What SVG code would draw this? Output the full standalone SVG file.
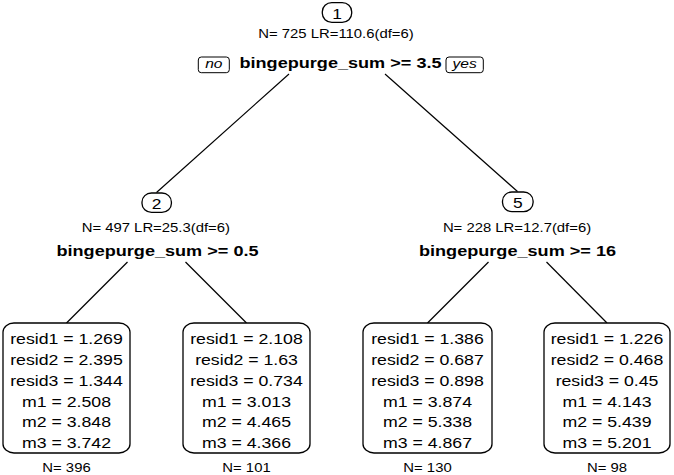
<svg xmlns="http://www.w3.org/2000/svg" width="674" height="475" viewBox="0 0 674 475">
<style>
text{font-family:"Liberation Sans",Arial,Helvetica,sans-serif;fill:#000;text-anchor:middle}
.id{font-size:14.5px}
.stat{font-size:12.5px}
.split{font-size:15.4px;font-weight:bold}
.lab{font-size:13px;font-style:italic}
.leaf{font-size:15px}
.box{fill:#fff;stroke:#000;stroke-width:1.3}
.edge{stroke:#000;stroke-width:1.2;fill:none}
</style>
<rect width="674" height="475" fill="#fff"/>
<g id="connectors">
<line class="edge" x1="289" y1="74" x2="156.5" y2="192.5"/>
<line class="edge" x1="385" y1="74" x2="517.5" y2="191.5"/>
<line class="edge" x1="127.5" y1="262" x2="66.5" y2="323"/>
<line class="edge" x1="185.5" y1="262" x2="246.5" y2="323"/>
<line class="edge" x1="488.5" y1="262" x2="427.5" y2="323"/>
<line class="edge" x1="546.5" y1="262" x2="607" y2="323"/>
</g>
<g id="node1">
<rect class="box" x="322.3" y="2.7" width="29.4" height="19.6" rx="9.5" ry="9"/>
<text class="id" transform="translate(337,18.6) scale(1.2,1)">1</text>
<text class="stat" transform="translate(336,37.5) scale(1.19,1)">N= 725 LR=110.6(df=6)</text>
<rect class="box" x="198.3" y="57" width="31" height="15.7" rx="3" ry="3" style="stroke-width:1"/>
<text class="lab" transform="translate(213.8,68.3) scale(1.2,1)">no</text>
<text class="split" transform="translate(340.5,68.3) scale(1.175,1)">bingepurge_sum &gt;= 3.5</text>
<rect class="box" x="446" y="57" width="37.3" height="15.7" rx="3" ry="3" style="stroke-width:1"/>
<text class="lab" transform="translate(464.6,68.3) scale(1.2,1)">yes</text>
</g>
<g id="node2">
<rect class="box" x="142" y="193" width="29.4" height="19.4" rx="9.5" ry="9"/>
<text class="id" transform="translate(156.7,208.8) scale(1.2,1)">2</text>
<text class="stat" transform="translate(155.8,231.5) scale(1.19,1)">N= 497 LR=25.3(df=6)</text>
<text class="split" transform="translate(157.5,255.5) scale(1.175,1)">bingepurge_sum &gt;= 0.5</text>
</g>
<g id="node5">
<rect class="box" x="502.5" y="192" width="30.6" height="19.6" rx="9.5" ry="9"/>
<text class="id" transform="translate(517.8,208.3) scale(1.2,1)">5</text>
<text class="stat" transform="translate(517,231.5) scale(1.19,1)">N= 228 LR=12.7(df=6)</text>
<text class="split" transform="translate(517.5,255.5) scale(1.175,1)">bingepurge_sum &gt;= 16</text>
</g>
<g id="node3">
<rect class="box" x="3" y="323" width="127" height="130" rx="11" ry="9"/>
<text class="leaf" transform="translate(66.5,344.3) scale(1.18,1)">resid1 = 1.269</text>
<text class="leaf" transform="translate(66.5,365) scale(1.18,1)">resid2 = 2.395</text>
<text class="leaf" transform="translate(66.5,385.8) scale(1.18,1)">resid3 = 1.344</text>
<text class="leaf" transform="translate(66.5,406.5) scale(1.18,1)">m1 = 2.508</text>
<text class="leaf" transform="translate(66.5,427.3) scale(1.18,1)">m2 = 3.848</text>
<text class="leaf" transform="translate(66.5,448) scale(1.18,1)">m3 = 3.742</text>
<text class="stat" transform="translate(66.5,471.7) scale(1.19,1)">N= 396</text>
</g>
<g id="node4">
<rect class="box" x="183" y="323" width="127" height="130" rx="11" ry="9"/>
<text class="leaf" transform="translate(246.5,344.3) scale(1.18,1)">resid1 = 2.108</text>
<text class="leaf" transform="translate(246.5,365) scale(1.18,1)">resid2 = 1.63</text>
<text class="leaf" transform="translate(246.5,385.8) scale(1.18,1)">resid3 = 0.734</text>
<text class="leaf" transform="translate(246.5,406.5) scale(1.18,1)">m1 = 3.013</text>
<text class="leaf" transform="translate(246.5,427.3) scale(1.18,1)">m2 = 4.465</text>
<text class="leaf" transform="translate(246.5,448) scale(1.18,1)">m3 = 4.366</text>
<text class="stat" transform="translate(246.5,471.7) scale(1.19,1)">N= 101</text>
</g>
<g id="node6">
<rect class="box" x="363" y="323" width="129" height="130" rx="11" ry="9"/>
<text class="leaf" transform="translate(427.5,344.3) scale(1.18,1)">resid1 = 1.386</text>
<text class="leaf" transform="translate(427.5,365) scale(1.18,1)">resid2 = 0.687</text>
<text class="leaf" transform="translate(427.5,385.8) scale(1.18,1)">resid3 = 0.898</text>
<text class="leaf" transform="translate(427.5,406.5) scale(1.18,1)">m1 = 3.874</text>
<text class="leaf" transform="translate(427.5,427.3) scale(1.18,1)">m2 = 5.338</text>
<text class="leaf" transform="translate(427.5,448) scale(1.18,1)">m3 = 4.867</text>
<text class="stat" transform="translate(427.5,471.7) scale(1.19,1)">N= 130</text>
</g>
<g id="node7">
<rect class="box" x="544" y="323" width="126" height="130" rx="11" ry="9"/>
<text class="leaf" transform="translate(607,344.3) scale(1.18,1)">resid1 = 1.226</text>
<text class="leaf" transform="translate(607,365) scale(1.18,1)">resid2 = 0.468</text>
<text class="leaf" transform="translate(607,385.8) scale(1.18,1)">resid3 = 0.45</text>
<text class="leaf" transform="translate(607,406.5) scale(1.18,1)">m1 = 4.143</text>
<text class="leaf" transform="translate(607,427.3) scale(1.18,1)">m2 = 5.439</text>
<text class="leaf" transform="translate(607,448) scale(1.18,1)">m3 = 5.201</text>
<text class="stat" transform="translate(607,471.7) scale(1.19,1)">N= 98</text>
</g>
</svg>
